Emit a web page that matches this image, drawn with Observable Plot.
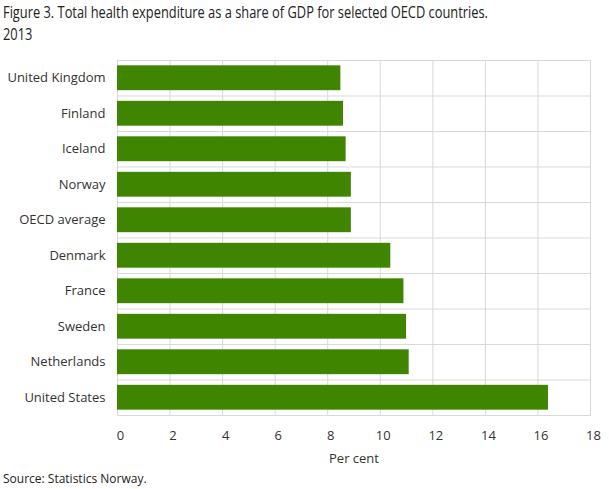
<!DOCTYPE html>
<html>
<head>
<meta charset="utf-8">
<script src="https://cdn.jsdelivr.net/npm/d3@7"></script>
<script src="https://cdn.jsdelivr.net/npm/@observablehq/plot@0.6"></script>
<style>
  body { margin: 0; background: #fff; width: 609px; height: 489px; overflow: hidden; }
  #title { font-family: "Open Sans", sans-serif; font-size: 17px; line-height: 22px; color: #222; padding: 1px 0 0 3px; height: 46px; box-sizing: border-box; white-space: nowrap; }
  #title span { display: inline-block; transform-origin: 0 0; }
  #source { font-family: "Open Sans", sans-serif; font-size: 12px; color: #222; padding-left: 3px; margin-top: 0px; }
  svg { display: block; }
</style>
</head>
<body>
<div id="title"><span id="t1">Figure 3. Total health expenditure as a share of GDP for selected OECD countries.</span><br><span id="t2">2013</span></div>
<div id="chart"></div>
<div id="source">Source: Statistics Norway.</div>
<script>
const countries = ["United Kingdom", "Finland", "Iceland", "Norway", "OECD average", "Denmark", "France", "Sweden", "Netherlands", "United States"];
const values = [8.5, 8.6, 8.7, 8.9, 8.9, 10.4, 10.9, 11.0, 11.1, 16.4];
const xTicks = [0, 2, 4, 6, 8, 10, 12, 14, 16, 18];

// condense the title to the reference width
const t1 = document.getElementById("t1");
const k = 485 / t1.getBoundingClientRect().width;
t1.style.transform = `scaleX(${k})`;
document.getElementById("t2").style.transform = `scaleX(${k})`;

const data = countries.map((c, i) => ({country: c, value: values[i]}));

const width = 609, height = 424, marginTop = 14, marginBottom = 55, marginLeft = 117, marginRight = 19;
const step = (height - marginTop - marginBottom) / countries.length;

const chart = Plot.plot({
  width, height, marginTop, marginBottom, marginLeft, marginRight,
  style: {fontFamily: "'Open Sans', sans-serif", fontSize: "13px", color: "#333"},
  x: {domain: [0, 18], ticks: xTicks, label: null},
  y: {domain: countries, paddingInner: 0.3, paddingOuter: 0.15, round: false, label: null},
  marks: [
    Plot.ruleX(xTicks, {stroke: "#d9d9d9", strokeWidth: 1, strokeOpacity: 1}),
    Plot.ruleY(countries.slice(1), {y: d => d, dy: -step / 2, stroke: "#d9d9d9", strokeOpacity: 1}),
    Plot.frame({stroke: "#d9d9d9"}),
    Plot.barX(data, {x: "value", y: "country", fill: "#3f8500"}),
    Plot.axisY({tickSize: 0, tickPadding: 12, fontSize: 13}),
    Plot.axisX({ticks: xTicks, tickSize: 0, tickPadding: 15, dx: 3, fontSize: 13, label: "Per cent", labelAnchor: "center", labelArrow: "none", labelOffset: 47})
  ]
});
document.getElementById("chart").appendChild(chart);
</script>
</body>
</html>
